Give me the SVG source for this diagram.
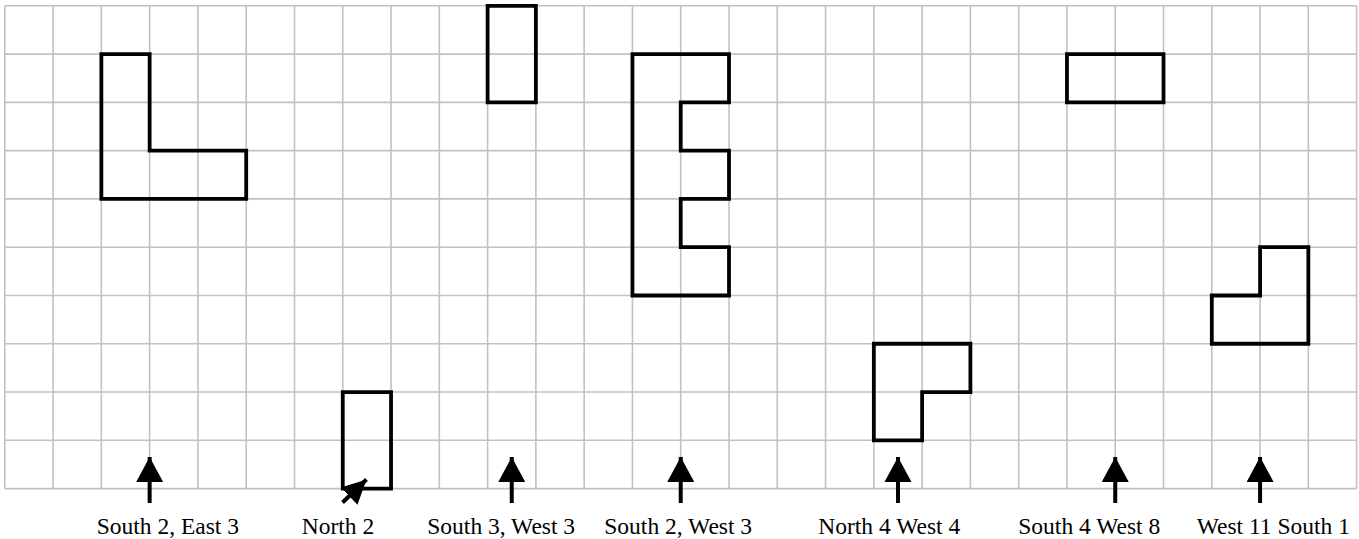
<svg xmlns="http://www.w3.org/2000/svg" width="1359" height="539" viewBox="0 0 1359 539">
<style>
.grid{fill:none;stroke:#c2c2c2;stroke-width:1.6}
.shape{fill:none;stroke:#000;stroke-width:3.8;stroke-linejoin:miter}
.shaft{stroke:#000;stroke-width:4;fill:none}
.lbl{font-family:"Liberation Serif","Times New Roman",serif;font-size:23.5px;fill:#000}
</style>
<defs>
<marker id="head" viewBox="0 0 25 27" refX="25" refY="13.5" markerWidth="25" markerHeight="27" markerUnits="userSpaceOnUse" orient="auto">
<path d="M0,0 L25,13.5 L0,27 Z" fill="#000"/>
</marker>
<marker id="headSmall" viewBox="0 0 24 24" refX="24" refY="12" markerWidth="24" markerHeight="24" markerUnits="userSpaceOnUse" orient="auto">
<path d="M0,0 L24,12 L0,24 Z" fill="#000"/>
</marker>
</defs>
<rect width="1359" height="539" fill="#fff"/>
<g id="grid">
<path class="grid" d="M4.8,5.8V488.6M53.08,5.8V488.6M101.36,5.8V488.6M149.64,5.8V488.6M197.92,5.8V488.6M246.2,5.8V488.6M294.48,5.8V488.6M342.76,5.8V488.6M391.04,5.8V488.6M439.32,5.8V488.6M487.6,5.8V488.6M535.88,5.8V488.6M584.16,5.8V488.6M632.44,5.8V488.6M680.72,5.8V488.6M729,5.8V488.6M777.28,5.8V488.6M825.56,5.8V488.6M873.84,5.8V488.6M922.12,5.8V488.6M970.4,5.8V488.6M1018.68,5.8V488.6M1066.96,5.8V488.6M1115.24,5.8V488.6M1163.52,5.8V488.6M1211.8,5.8V488.6M1260.08,5.8V488.6M1308.36,5.8V488.6M1356.64,5.8V488.6
M4.8,5.8H1356.64M4.8,54.08H1356.64M4.8,102.36H1356.64M4.8,150.64H1356.64M4.8,198.92H1356.64M4.8,247.2H1356.64M4.8,295.48H1356.64M4.8,343.76H1356.64M4.8,392.04H1356.64M4.8,440.32H1356.64M4.8,488.6H1356.64"/>
</g>
<g id="shape-L">
<path class="shape" d="M101.36,54.08H149.64V150.64H246.2V198.92H101.36Z"/>
</g>
<g id="shape-north2">
<path class="shape" d="M342.76,392.04H391.04V488.6H342.76Z"/>
</g>
<g id="shape-tall">
<path class="shape" d="M487.6,5.8H535.88V102.36H487.6Z"/>
</g>
<g id="shape-E">
<path class="shape" d="M632.44,54.08H729V102.36H680.72V150.64H729V198.92H680.72V247.2H729V295.48H632.44Z"/>
</g>
<g id="shape-corner">
<path class="shape" d="M873.84,343.76H970.4V392.04H922.12V440.32H873.84Z"/>
</g>
<g id="shape-wide">
<path class="shape" d="M1066.96,54.08H1163.52V102.36H1066.96Z"/>
</g>
<g id="shape-step">
<path class="shape" d="M1260.08,247.2H1308.36V343.76H1211.8V295.48H1260.08Z"/>
</g>
<g id="connectors">
<line class="shaft" x1="149.64" y1="503" x2="149.64" y2="457" marker-end="url(#head)"/>
<line class="shaft" x1="342.5" y1="502.5" x2="366.5" y2="479.5" marker-end="url(#headSmall)"/>
<line class="shaft" x1="511.74" y1="503" x2="511.74" y2="457" marker-end="url(#head)"/>
<line class="shaft" x1="680.72" y1="503" x2="680.72" y2="457" marker-end="url(#head)"/>
<line class="shaft" x1="897.98" y1="503" x2="897.98" y2="457" marker-end="url(#head)"/>
<line class="shaft" x1="1115.24" y1="503" x2="1115.24" y2="457" marker-end="url(#head)"/>
<line class="shaft" x1="1260.08" y1="503" x2="1260.08" y2="457" marker-end="url(#head)"/>
</g>
<g id="labels">
<text class="lbl" x="96.7" y="534">South 2, East 3</text>
<text class="lbl" x="301.7" y="534">North 2</text>
<text class="lbl" x="427.3" y="534">South 3, West 3</text>
<text class="lbl" x="604.3" y="534">South 2, West 3</text>
<text class="lbl" x="818.3" y="534">North 4 West 4</text>
<text class="lbl" x="1018.3" y="534">South 4 West 8</text>
<text class="lbl" x="1196.7" y="534">West 11 South 1</text>
</g>
</svg>
